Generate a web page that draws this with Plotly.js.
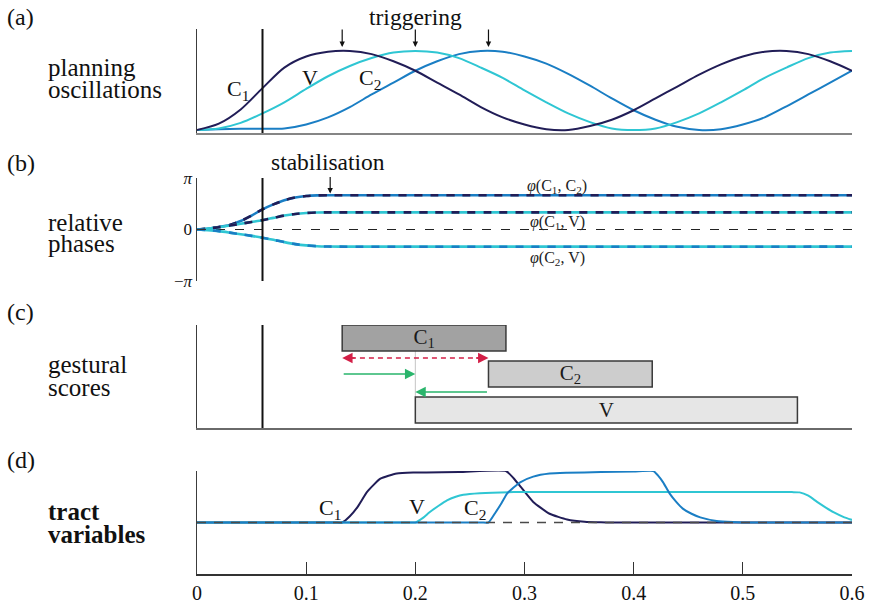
<!DOCTYPE html>
<html>
<head>
<meta charset="utf-8">
<script src="https://cdn.plot.ly/plotly-3.0.1.min.js"></script>
<style>
html,body{margin:0;padding:0;background:#fff;}
#chart text{font-family:'Liberation Serif',serif !important;}
</style>
</head>
<body>
<div id="chart" style="width:869px;height:603px;"></div>
<script>
// ---- time axis shared by all panels (seconds) ----
const tickVals = [0, 0.1, 0.2, 0.3, 0.4, 0.5, 0.6];
const tickText = ['0', '0.1', '0.2', '0.3', '0.4', '0.5', '0.6'];

// ---- (a) planning oscillations ----
const tOsc = [0, 0.02, 0.04, 0.06, 0.08, 0.10, 0.12, 0.14, 0.16, 0.18, 0.20, 0.22, 0.24, 0.26, 0.28, 0.30,
              0.32, 0.34, 0.36, 0.38, 0.40, 0.42, 0.44, 0.46, 0.48, 0.50, 0.52, 0.54, 0.56, 0.58, 0.60];
const oscC1 = [0, 0.08, 0.26, 0.53, 0.79, 0.93, 0.99, 1.0, 0.96, 0.87, 0.75, 0.60, 0.45, 0.29, 0.16, 0.07,
               0.01, 0.0, 0.05, 0.13, 0.25, 0.40, 0.55, 0.70, 0.83, 0.93, 0.99, 1.0, 0.96, 0.87, 0.75];
const oscV  = [0, 0.02, 0.09, 0.21, 0.35, 0.52, 0.68, 0.81, 0.91, 0.98, 1.0, 0.98, 0.91, 0.79, 0.66, 0.50,
               0.35, 0.21, 0.10, 0.02, 0.0, 0.02, 0.10, 0.21, 0.35, 0.50, 0.66, 0.79, 0.91, 0.98, 1.0];
const oscC2 = [0, 0.01, 0.015, 0.015, 0.02, 0.07, 0.16, 0.29, 0.45, 0.60, 0.75, 0.87, 0.96, 1.0, 0.99, 0.93,
               0.84, 0.71, 0.56, 0.40, 0.25, 0.13, 0.04, 0.0, 0.01, 0.07, 0.16, 0.30, 0.45, 0.60, 0.75];
const triggerTimes = [0.133, 0.2, 0.267];
const startTime = 0.06;

// ---- (b) relative phases (radians) ----
const tPhase = [0, 0.01, 0.02, 0.03, 0.04, 0.05, 0.06, 0.07, 0.08, 0.09, 0.10, 0.11, 0.12, 0.13, 0.6];
const phiC1C2 = [0, 0.05, 0.15, 0.28, 0.52, 0.85, 1.23, 1.53, 1.78, 1.95, 2.04, 2.08, 2.09, 2.09, 2.09];
const phiC1V  = [0, 0.06, 0.14, 0.24, 0.35, 0.46, 0.57, 0.71, 0.85, 0.95, 1.01, 1.04, 1.047, 1.047, 1.047];
const phiC2V  = [0, -0.04, -0.10, -0.19, -0.29, -0.39, -0.50, -0.63, -0.77, -0.89, -0.97, -1.02, -1.04, -1.047, -1.047];
const stabilisationTime = 0.122;

// ---- (c) gestural scores ----
const gestureNames = ['C<sub>1</sub>', 'C<sub>2</sub>', 'V'];
const gestureStart = [0.133, 0.267, 0.2];
const gestureEnd   = [0.283, 0.417, 0.55];
const gestureRow   = [2.5, 1.5, 0.5];

// ---- (d) tract variables ----
const tTvC1 = [0, 0.06, 0.12, 0.127, 0.133, 0.14, 0.147, 0.156, 0.168, 0.183, 0.198, 0.24, 0.283, 0.29, 0.297, 0.308,
               0.323, 0.339, 0.355, 0.37, 0.38, 0.5, 0.6];
const tvC1  = [0, 0, 0, 0, 0, 0.12, 0.30, 0.60, 0.85, 0.95, 0.97, 0.98, 1.0, 0.86, 0.68, 0.40,
               0.17, 0.06, 0.015, 0.003, 0, 0, 0];
const tTvV  = [0, 0.1, 0.19, 0.195, 0.2, 0.207, 0.213, 0.221, 0.229, 0.237, 0.244, 0.259, 0.29, 0.4, 0.545, 0.552,
               0.56, 0.568, 0.576, 0.583, 0.592, 0.6];
const tvV   = [0, 0, 0, 0, 0, 0.09, 0.20, 0.32, 0.43, 0.50, 0.54, 0.57, 0.59, 0.59, 0.59, 0.585,
               0.52, 0.40, 0.29, 0.20, 0.11, 0.05];
const tTvC2 = [0, 0.13, 0.255, 0.261, 0.267, 0.273, 0.279, 0.284, 0.29, 0.296, 0.308, 0.323, 0.339, 0.37, 0.4, 0.418,
               0.422, 0.427, 0.433, 0.439, 0.445, 0.453, 0.461, 0.476, 0.491, 0.5, 0.51, 0.55, 0.6];
const tvC2  = [0, 0, 0, 0, 0, 0.18, 0.38, 0.56, 0.68, 0.78, 0.89, 0.95, 0.965, 0.98, 0.99, 1.0,
               0.92, 0.78, 0.56, 0.40, 0.27, 0.17, 0.10, 0.03, 0.008, 0.002, 0, 0, 0];

// ---- styling ----
const NAVY = '#211d57', CYAN = '#2fc6d3', BLUE = '#1a7ec4';
const SERIF = 'Liberation Serif';
const W = 869, H = 603;
const px = v => v / W;            // horizontal pixel -> paper
const py = v => 1 - v / H;        // vertical pixel -> paper
const X_DOMAIN = [px(197), px(852)];

const line = (x, y, color, xa, ya, extra) => Object.assign({
  type: 'scatter', mode: 'lines', x: x, y: y, xaxis: xa, yaxis: ya,
  line: {color: color, width: 2, shape: 'spline', smoothing: 0.8},
  hoverinfo: 'skip', showlegend: false, cliponaxis: false
}, extra || {});

const traces = [];

// (a)
traces.push(line(tOsc, oscC2, BLUE, 'x', 'y'));
traces.push(line(tOsc, oscV, CYAN, 'x', 'y'));
traces.push(line(tOsc, oscC1, NAVY, 'x', 'y'));

// (b) zero reference and phase curves drawn as two-colour dashed pairs
traces.push(line([0, 0.6], [0, 0], '#222', 'x2', 'y2', {line: {color: '#222', width: 1.2, dash: '9px,10px'}}));
const phasePairs = [
  [phiC1C2, BLUE, NAVY],
  [phiC1V, CYAN, NAVY],
  [phiC2V, CYAN, BLUE]
];
phasePairs.forEach(p => {
  traces.push(line(tPhase, p[0], p[1], 'x2', 'y2', {line: {color: p[1], width: 2.6, shape: 'spline', smoothing: 0.8}}));
  traces.push(line(tPhase, p[0], p[2], 'x2', 'y2', {line: {color: p[2], width: 2.6, shape: 'spline', smoothing: 0.8, dash: '8px,8px'}}));
});

// (c) gestural score boxes
traces.push({
  type: 'bar', orientation: 'h', xaxis: 'x3', yaxis: 'y3',
  y: gestureRow,
  base: gestureStart,
  x: gestureEnd.map((e, i) => e - gestureStart[i]),
  width: 0.72,
  marker: {color: ['#a2a2a2', '#cdcdcd', '#e6e6e6'], line: {color: '#3a3a3a', width: 1.5}},
  text: gestureNames, textposition: 'inside', insidetextanchor: 'middle', textangle: 0,
  constraintext: 'none',
  textfont: {family: SERIF, size: 21, color: '#1a1a1a'},
  hoverinfo: 'skip', showlegend: false
});
// coupling arrow shaft (dashed)
traces.push(line([0.141, 0.258], [1.944, 1.944], '#d31f47', 'x3', 'y3', {line: {color: '#d31f47', width: 1.6, dash: '5px,4px'}}));

// (d)
const tvLine = c => ({color: c, width: 2, shape: 'spline', smoothing: 0.5});
traces.push(line(tTvC1, tvC1, NAVY, 'x4', 'y4', {line: tvLine(NAVY)}));
traces.push(line(tTvV, tvV, CYAN, 'x4', 'y4', {line: tvLine(CYAN)}));
traces.push(line(tTvC2, tvC2, BLUE, 'x4', 'y4', {line: tvLine(BLUE)}));
traces.push(line([0, 0.6], [0, 0], '#4a4a4a', 'x4', 'y4', {line: {color: '#4a4a4a', width: 1.4, dash: '9px,8px'}}));

const baseX = {domain: X_DOMAIN, range: [0, 0.6], showgrid: false, zeroline: false, ticks: '', showticklabels: false, fixedrange: true};
const baseY = {showgrid: false, zeroline: false, ticks: '', showticklabels: false, fixedrange: true,
               showline: true, linecolor: '#3c3c3c', linewidth: 1.5};

const annotations = [];
const txt = (x, y, text, opts) => annotations.push(Object.assign({
  x: x, y: y, text: text, showarrow: false, font: {family: SERIF, size: 22, color: '#111'}
}, opts || {}));
const paperTxt = (x, y, text, size) => txt(px(x), py(y), text,
  {xref: 'paper', yref: 'paper', xanchor: 'left', yanchor: 'middle', font: {family: SERIF, size: size, color: '#111'}});

// panel letters and names (one annotation per line)
[['(a)', 17, 'planning', 67, 'oscillations', 90],
 ['(b)', 163, 'relative', 222, 'phases', 244],
 ['(c)', 312, 'gestural', 364, 'scores', 387],
 ['(d)', 460, '<b>tract</b>', 511, '<b>variables</b>', 534]].forEach(r => {
  paperTxt(5, r[1], r[0], 24);
  paperTxt(46, r[3], r[2], 25);
  paperTxt(46, r[5], r[4], 25);
});

// (a) labels and triggering arrows
txt(0.0376, 0.50, 'C<sub>1</sub>', {xref: 'x', yref: 'y'});
txt(0.1035, 0.66, 'V', {xref: 'x', yref: 'y'});
txt(0.1585, 0.645, 'C<sub>2</sub>', {xref: 'x', yref: 'y'});
txt(0.2, py(17), 'triggering', {xref: 'x', yref: 'paper', yanchor: 'middle', font: {family: SERIF, size: 23.5, color: '#111'}});
triggerTimes.forEach(t => annotations.push({
  xref: 'x', yref: 'y', x: t, y: 1.05, ax: 0, ay: -19, text: '', showarrow: true,
  arrowhead: 2, arrowsize: 0.9, arrowwidth: 1.2, arrowcolor: '#111', standoff: 0
}));

// (b) labels
const phiFont = {family: SERIF, size: 16, color: '#222'};
txt(0.33, 2.62, '<i>φ</i>(C<sub>1</sub>, C<sub>2</sub>)', {xref: 'x2', yref: 'y2', font: phiFont});
txt(0.33, 0.45, '<i>φ</i>(C<sub>1</sub>, V)', {xref: 'x2', yref: 'y2', font: phiFont});
txt(0.33, -1.77, '<i>φ</i>(C<sub>2</sub>, V)', {xref: 'x2', yref: 'y2', font: phiFont});
txt(0.12, py(162), 'stabilisation', {xref: 'x2', yref: 'paper', yanchor: 'middle', font: {family: SERIF, size: 23.5, color: '#111'}});
annotations.push({
  xref: 'x2', yref: 'y2', x: stabilisationTime, y: 2.2, ax: 0, ay: -18, text: '', showarrow: true,
  arrowhead: 2, arrowsize: 0.9, arrowwidth: 1.2, arrowcolor: '#111', standoff: 0
});

// (c) coupling arrows
const arrowC = {xref: 'x3', yref: 'y3', text: '', showarrow: true, arrowhead: 2, arrowsize: 1.3, arrowwidth: 1.6, standoff: 0};
annotations.push(Object.assign({}, arrowC, {x: gestureStart[0], y: 1.944, ax: 14, ay: 0, arrowcolor: '#d31f47'}));
annotations.push(Object.assign({}, arrowC, {x: gestureStart[1], y: 1.944, ax: -14, ay: 0, arrowcolor: '#d31f47'}));
annotations.push(Object.assign({}, arrowC, {x: gestureStart[2], y: 1.5, axref: 'x3', ayref: 'y3', ax: gestureStart[0], ay: 1.5, arrowcolor: '#2ab56c'}));
annotations.push(Object.assign({}, arrowC, {x: gestureStart[2], y: 1.0, axref: 'x3', ayref: 'y3', ax: gestureStart[1], ay: 1.0, arrowcolor: '#2ab56c'}));

// (d) labels
txt(0.1218, 0.27, 'C<sub>1</sub>', {xref: 'x4', yref: 'y4'});
txt(0.2015, 0.31, 'V', {xref: 'x4', yref: 'y4'});
txt(0.2547, 0.27, 'C<sub>2</sub>', {xref: 'x4', yref: 'y4'});

const shapes = [
  ['x', 'y'], ['x2', 'y2'], ['x3', 'y3']
].map(a => ({type: 'line', xref: a[0], yref: a[1] + ' domain', x0: startTime, x1: startTime, y0: 0, y1: 1,
             line: {color: '#111', width: 2}}));
shapes.push({type: 'line', xref: 'x3', yref: 'y3', x0: 0.2, x1: 0.2, y0: 0.861, y1: 2.139, line: {color: '#c4c4c4', width: 1}, layer: 'below'});

const layout = {
  width: W, height: H,
  margin: {l: 0, r: 0, t: 0, b: 0},
  paper_bgcolor: '#fff', plot_bgcolor: 'rgba(0,0,0,0)',
  font: {family: SERIF, color: '#111'},
  showlegend: false,
  bargap: 0,
  xaxis:  Object.assign({}, baseX, {anchor: 'y', showline: true, linecolor: '#858585', linewidth: 2}),
  yaxis:  Object.assign({}, baseY, {anchor: 'x', domain: [py(133), py(29)], range: [-0.038, 1.278]}),
  xaxis2: Object.assign({}, baseX, {anchor: 'y2', showline: false}),
  yaxis2: Object.assign({}, baseY, {anchor: 'x2', domain: [py(281), py(178)], range: [-Math.PI, Math.PI],
          ticks: 'inside', ticklen: 9, tickwidth: 1.3, tickcolor: '#333', showticklabels: true,
          tickvals: [-Math.PI, 0, Math.PI], ticktext: ['−<i>π</i>', '0', '<i>π</i>'],
          tickfont: {family: SERIF, size: 17, color: '#111'}}),
  xaxis3: Object.assign({}, baseX, {anchor: 'y3', showline: true, linecolor: '#6a6a6a', linewidth: 2}),
  yaxis3: Object.assign({}, baseY, {anchor: 'x3', domain: [py(428), py(325)], range: [0, 2.861]}),
  xaxis4: Object.assign({}, baseX, {anchor: 'y4', showline: true, linecolor: '#333', linewidth: 1.5,
          ticks: 'inside', ticklen: 12, tickwidth: 1.3, tickcolor: '#333', showticklabels: true,
          tickvals: tickVals, ticktext: tickText, tickfont: {family: SERIF, size: 20, color: '#111'}}),
  yaxis4: Object.assign({}, baseY, {anchor: 'x4', domain: [py(574), py(471)], range: [-1.0, 1.0]}),
  annotations: annotations,
  shapes: shapes
};

Plotly.newPlot('chart', traces, layout, {displayModeBar: false, staticPlot: true});
</script>
</body>
</html>
